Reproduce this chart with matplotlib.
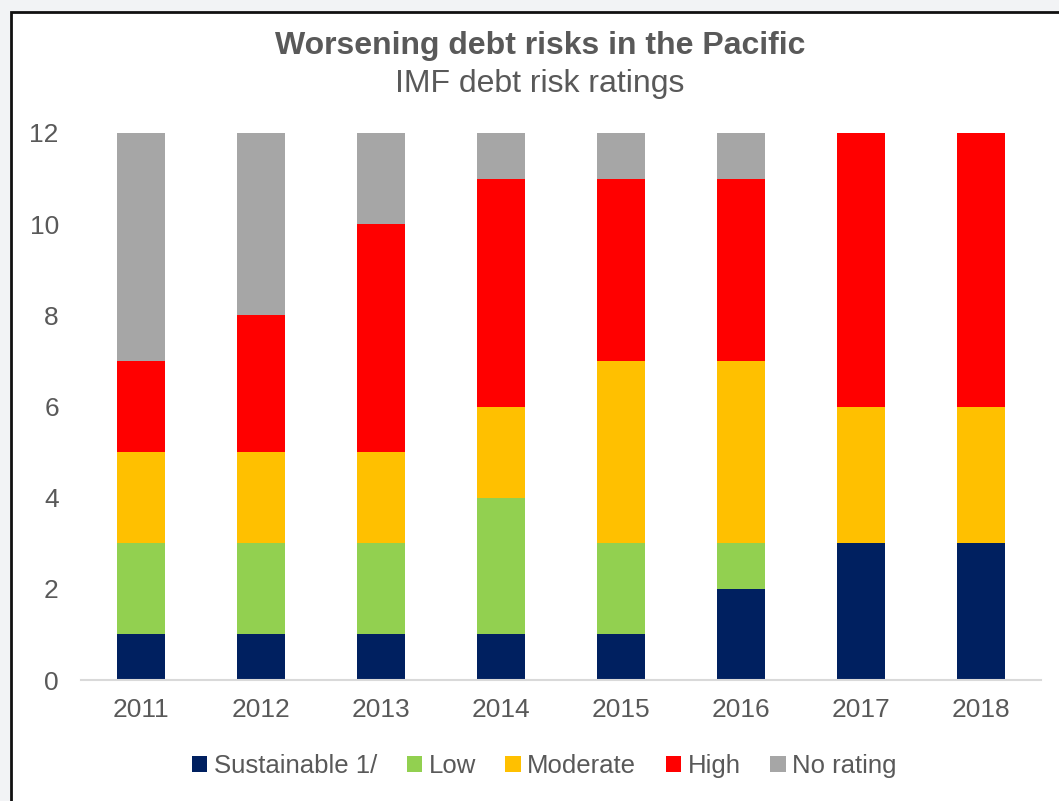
import matplotlib.pyplot as plt
from matplotlib.patches import Rectangle
import numpy as np

plt.rcParams['font.family'] = ['Liberation Sans', 'DejaVu Sans']

years = ['2011', '2012', '2013', '2014', '2015', '2016', '2017', '2018']
sustainable = [1, 1, 1, 1, 1, 2, 3, 3]
low = [2, 2, 2, 3, 2, 1, 0, 0]
moderate = [2, 2, 2, 2, 4, 4, 3, 3]
high = [2, 3, 5, 5, 4, 4, 6, 6]
no_rating = [5, 4, 2, 1, 1, 1, 0, 0]

series = [('Sustainable 1/', sustainable, '#002060'),
          ('Low', low, '#92D050'),
          ('Moderate', moderate, '#FFC000'),
          ('High', high, '#FF0000'),
          ('No rating', no_rating, '#A6A6A6')]

text_col = '#595959'

fig = plt.figure(figsize=(10.59, 8.01), dpi=100, facecolor='#F2F3F5')
# white chart area with dark border
fig.patches.append(Rectangle((10.5 / 1059, -0.05), 1.1, 1 - 12 / 801 + 0.05,
                             transform=fig.transFigure, facecolor='white',
                             edgecolor='#111111', linewidth=2, zorder=-1))

ax = fig.add_axes([81 / 1059, 1 - 680 / 801, 960 / 1059, 547 / 801])
ax.set_facecolor('none')

index = np.arange(len(years))
bottom = np.zeros(len(years))
for name, vals, col in series:
    ax.bar(index, vals, 0.4, bottom=bottom, color=col, label=name, zorder=2)
    bottom += np.array(vals)

ax.set_xlim(-0.5, len(years) - 0.5)
ax.set_ylim(0, 12)
ax.set_yticks(range(0, 13, 2))
ax.set_xticks(index)
ax.set_xticklabels(years)
for s in ['top', 'right', 'left']:
    ax.spines[s].set_visible(False)
ax.spines['bottom'].set_color('#D9D9D9')
ax.spines['bottom'].set_linewidth(1.5)
ax.tick_params(axis='both', length=0, labelsize=19, labelcolor=text_col)
ax.tick_params(axis='x', pad=13)
ax.tick_params(axis='y', pad=16)

fig.text(540 / 1059, 1 - 46 / 801, 'Worsening debt risks in the Pacific', ha='center',
         va='center', fontsize=23, fontweight='bold', color=text_col)
fig.text(540 / 1059, 1 - 84 / 801, 'IMF debt risk ratings', ha='center',
         va='center', fontsize=23, color=text_col)

leg = fig.legend(loc='center', bbox_to_anchor=(0.514, 1 - 766 / 801), ncol=5,
                 frameon=False, fontsize=18.5, handlelength=0.6, handleheight=0.6,
                 handletextpad=0.25, columnspacing=1.15)
for t in leg.get_texts():
    t.set_color(text_col)

fig.savefig('out.png', dpi=100, facecolor=fig.get_facecolor())
